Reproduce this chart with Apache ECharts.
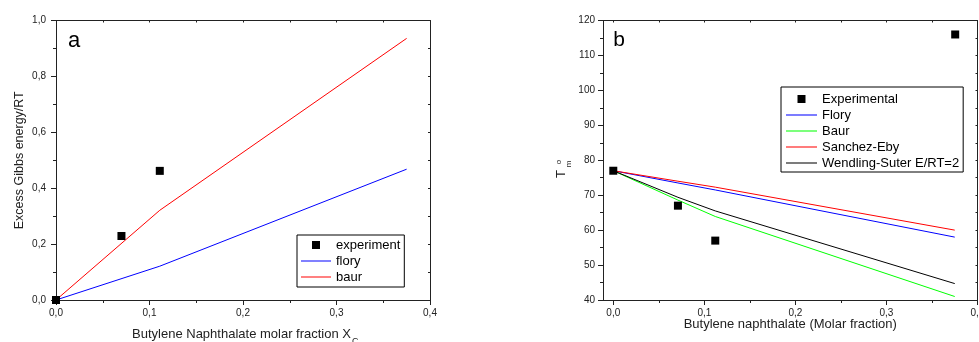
<!DOCTYPE html>
<html>
<head>
<meta charset="utf-8">
<script src="https://cdn.jsdelivr.net/npm/echarts@6/dist/echarts.min.js"></script>
<style>html,body{margin:0;padding:0;background:#fff}#c{width:979px;height:342px}</style>
</head>
<body>
<div id="c"></div>
<script>
// ---- Panel a data ----
const leftExpX = [0, 0.070, 0.111];
const leftExpY = [0, 0.229, 0.462];
const leftModelX = [0, 0.111, 0.375];
const leftFlory = [0, 0.121, 0.468];
const leftBaur = [0, 0.321, 0.936];
const leftXTicks = [0, 0.1, 0.2, 0.3, 0.4];
const leftYTicks = [0, 0.2, 0.4, 0.6, 0.8, 1.0];

// ---- Panel b data ----
const rightExpX = [0, 0.071, 0.112, 0.3755];
const rightExpY = [77, 67, 57, 116];
const rightModelX = [0, 0.071, 0.112, 0.375];
const rightFlory = [77, 73.5, 71.5, 58];
const rightBaur = [77, 68.6, 63.9, 41];
const rightSanchez = [77, 74.0, 72.3, 60];
const rightWendling = [77, 69.4, 65.5, 44.7];
const rightXTicks = [0, 0.1, 0.2, 0.3, 0.4];
const rightXMinor = [0.05, 0.15, 0.25, 0.35];
const rightYTicks = [40, 50, 60, 70, 80, 90, 100, 110, 120];

const pairs = (xs, ys) => xs.map((x, i) => [x, ys[i]]);
const FONT = "'Liberation Sans', Arial, sans-serif";
const AX = '#222';
const comma = v => v.toFixed(1).replace('.', ',');
const LINE_ICON = 'path://M0,0 H30 V1 H0 Z';
const SQ_ICON = 'path://M0,0 H8 V8 H0 Z';

const chart = echarts.init(document.getElementById('c'), null, {renderer: 'canvas'});

const baseAxis = (extra) => Object.assign({
  type: 'value',
  splitLine: {show: false},
  nameMoveOverlap: false,
  axisLine: {show: true, onZero: false, lineStyle: {color: AX, width: 1}},
  axisTick: {show: true, inside: false, length: 5, lineStyle: {color: AX}},
  minorTick: {show: true, splitNumber: 2, length: 3, lineStyle: {color: AX}},
  axisLabel: {show: true, color: '#222', fontFamily: FONT, fontSize: 10, margin: 8}
}, extra);

const option = {
  animation: false,
  textStyle: {fontFamily: FONT},
  grid: [
    {left: 56, top: 20.5, width: 374, height: 279.5, containLabel: false, outerBoundsMode: 'none'},
    {left: 603, top: 20.5, width: 374.5, height: 279.5, containLabel: false, outerBoundsMode: 'none'}
  ],
  xAxis: [
    baseAxis({gridIndex: 0, position: 'bottom', min: 0, max: 0.4, interval: 0.1,
      axisLabel: {color: '#222', fontFamily: FONT, fontSize: 10, margin: 8, formatter: comma}}),
    baseAxis({gridIndex: 0, position: 'top', min: 0, max: 0.4, interval: 0.1,
      axisTick: {show: true, inside: true, length: 2, lineStyle: {color: AX}},
      minorTick: {show: true, splitNumber: 2, length: 2, lineStyle: {color: AX}},
      axisLabel: {show: false}}),
    baseAxis({gridIndex: 1, position: 'bottom', min: -0.0113, max: 0.4,
      minorTick: {show: false},
      axisTick: {show: true, inside: false, length: 5, customValues: rightXTicks, lineStyle: {color: AX}},
      axisLabel: {color: '#222', fontFamily: FONT, fontSize: 10, margin: 8, customValues: rightXTicks, formatter: comma},
      name: 'Butylene naphthalate (Molar fraction)', nameLocation: 'middle', nameGap: 17.5,
      nameTextStyle: {fontFamily: FONT, fontSize: 13, color: '#222'}}),
    baseAxis({gridIndex: 1, position: 'bottom', min: -0.0113, max: 0.4,
      axisLine: {show: false}, minorTick: {show: false},
      axisTick: {show: true, inside: false, length: 3, customValues: rightXMinor, lineStyle: {color: AX}},
      axisLabel: {show: false}}),
    baseAxis({gridIndex: 1, position: 'top', min: -0.0113, max: 0.4,
      minorTick: {show: false},
      axisTick: {show: true, inside: true, length: 2, customValues: rightXTicks.concat(rightXMinor), lineStyle: {color: AX}},
      axisLabel: {show: false}})
  ],
  yAxis: [
    baseAxis({gridIndex: 0, position: 'left', min: 0, max: 1, interval: 0.2,
      axisLabel: {color: '#222', fontFamily: FONT, fontSize: 10, margin: 10, formatter: comma},
      name: 'Excess Gibbs energy/RT', nameLocation: 'middle', nameGap: 30,
      nameTextStyle: {fontFamily: FONT, fontSize: 12.5, color: '#222'}}),
    baseAxis({gridIndex: 0, position: 'right', min: 0, max: 1, interval: 0.2,
      axisTick: {show: true, inside: true, length: 2, lineStyle: {color: AX}},
      minorTick: {show: true, splitNumber: 2, length: 2, lineStyle: {color: AX}},
      axisLabel: {show: false}}),
    baseAxis({gridIndex: 1, position: 'left', min: 40, max: 120, interval: 10,
      axisLabel: {color: '#222', fontFamily: FONT, fontSize: 10, margin: 8}}),
    baseAxis({gridIndex: 1, position: 'right', min: 40, max: 120, interval: 10,
      axisTick: {show: true, inside: true, length: 2, lineStyle: {color: AX}},
      minorTick: {show: true, splitNumber: 2, length: 2, lineStyle: {color: AX}},
      axisLabel: {show: false}})
  ],
  legend: [
    {
      orient: 'vertical', left: 297, top: 235,
      data: [
        {name: 'experiment', icon: SQ_ICON},
        {name: 'flory', icon: LINE_ICON},
        {name: 'baur', icon: LINE_ICON}
      ],
      itemWidth: 30, itemHeight: 8, itemGap: 0, symbolKeepAspect: true,
      padding: [2, 4, 2, 4],
      borderColor: '#000', borderWidth: 1,
      textStyle: {fontFamily: FONT, fontSize: 13, color: '#000', lineHeight: 16}
    },
    {
      orient: 'vertical', left: 781, top: 87,
      data: [
        {name: 'Experimental', icon: SQ_ICON},
        {name: 'Flory', icon: LINE_ICON},
        {name: 'Baur', icon: LINE_ICON},
        {name: 'Sanchez-Eby', icon: LINE_ICON},
        {name: 'Wendling-Suter E/RT=2', icon: LINE_ICON}
      ],
      itemWidth: 31, itemHeight: 8, itemGap: 0, symbolKeepAspect: true,
      padding: [4, 4, 1, 5],
      borderColor: '#000', borderWidth: 1,
      textStyle: {fontFamily: FONT, fontSize: 13, color: '#000', lineHeight: 16}
    }
  ],
  series: [
    {name: 'experiment', type: 'scatter', xAxisIndex: 0, yAxisIndex: 0, symbol: 'rect', symbolSize: 8,
      itemStyle: {color: '#000', opacity: 1}, data: pairs(leftExpX, leftExpY), z: 5},
    {name: 'flory', type: 'line', xAxisIndex: 0, yAxisIndex: 0, symbol: 'none', showSymbol: false,
      lineStyle: {color: '#0000ff', width: 1}, itemStyle: {color: '#0000ff'}, data: pairs(leftModelX, leftFlory)},
    {name: 'baur', type: 'line', xAxisIndex: 0, yAxisIndex: 0, symbol: 'none', showSymbol: false,
      lineStyle: {color: '#ff0000', width: 1}, itemStyle: {color: '#ff0000'}, data: pairs(leftModelX, leftBaur)},

    {name: 'Experimental', type: 'scatter', xAxisIndex: 2, yAxisIndex: 2, symbol: 'rect', symbolSize: 8,
      itemStyle: {color: '#000', opacity: 1}, data: pairs(rightExpX, rightExpY), z: 5},
    {name: 'Flory', type: 'line', xAxisIndex: 2, yAxisIndex: 2, symbol: 'none', showSymbol: false,
      lineStyle: {color: '#0000ff', width: 1}, itemStyle: {color: '#0000ff'}, data: pairs(rightModelX, rightFlory)},
    {name: 'Baur', type: 'line', xAxisIndex: 2, yAxisIndex: 2, symbol: 'none', showSymbol: false,
      lineStyle: {color: '#00ff00', width: 1}, itemStyle: {color: '#00ff00'}, data: pairs(rightModelX, rightBaur)},
    {name: 'Sanchez-Eby', type: 'line', xAxisIndex: 2, yAxisIndex: 2, symbol: 'none', showSymbol: false,
      lineStyle: {color: '#ff0000', width: 1}, itemStyle: {color: '#ff0000'}, data: pairs(rightModelX, rightSanchez)},
    {name: 'Wendling-Suter E/RT=2', type: 'line', xAxisIndex: 2, yAxisIndex: 2, symbol: 'none', showSymbol: false,
      lineStyle: {color: '#000000', width: 1}, itemStyle: {color: '#000000'}, data: pairs(rightModelX, rightWendling)}
  ],
  graphic: [
    {type: 'text', x: 74, y: 41, style: {text: 'a', fontFamily: FONT, fontSize: 22, fill: '#000', textAlign: 'center', textVerticalAlign: 'middle', verticalAlign: 'middle'}},
    {type: 'text', x: 619, y: 40, style: {text: 'b', fontFamily: FONT, fontSize: 21, fill: '#000', textAlign: 'center', textVerticalAlign: 'middle', verticalAlign: 'middle'}},
    {type: 'text', x: 351, y: 334, style: {text: 'Butylene Naphthalate molar fraction X', fontFamily: FONT, fontSize: 13, fill: '#222', textAlign: 'right', textVerticalAlign: 'middle', verticalAlign: 'middle'}},
    {type: 'text', x: 352, y: 342, style: {text: 'C', fontFamily: FONT, fontSize: 9, fill: '#222', textAlign: 'left', textVerticalAlign: 'middle', verticalAlign: 'middle'}},
    {type: 'text', x: 561, y: 174, rotation: Math.PI / 2, style: {text: 'T', fontFamily: FONT, fontSize: 13, fill: '#222', textAlign: 'center', textVerticalAlign: 'middle', verticalAlign: 'middle'}},
    {type: 'text', x: 569, y: 164, rotation: Math.PI / 2, style: {text: 'm', fontFamily: FONT, fontSize: 8, fill: '#222', textAlign: 'center', textVerticalAlign: 'middle', verticalAlign: 'middle'}},
    {type: 'text', x: 559, y: 162, rotation: Math.PI / 2, style: {text: 'o', fontFamily: FONT, fontSize: 8, fill: '#222', textAlign: 'center', textVerticalAlign: 'middle', verticalAlign: 'middle'}}
  ]
};
chart.setOption(option);
</script>
</body>
</html>
